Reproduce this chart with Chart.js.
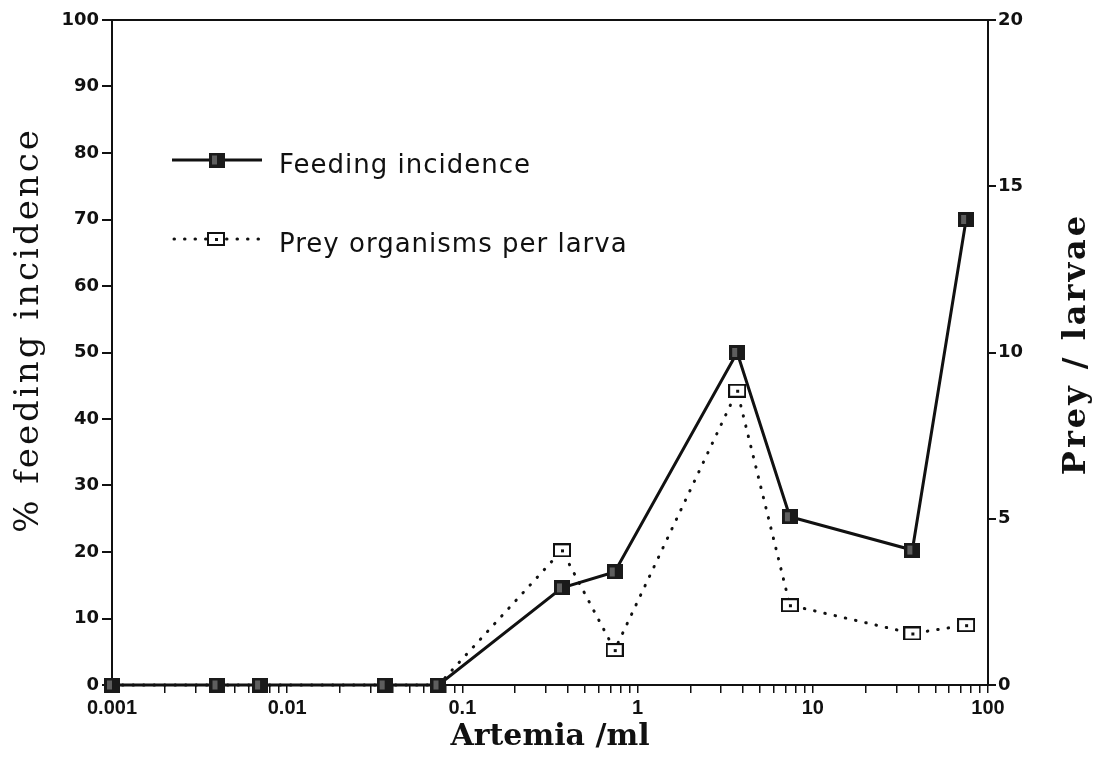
<!DOCTYPE html>
<html>
<head>
<meta charset="utf-8">
<script src="https://cdn.jsdelivr.net/npm/chart.js@4.4.1/dist/chart.umd.min.js"></script>
<style>
  html, body { margin: 0; padding: 0; background: #fff; }
  #wrap { width: 1104px; height: 773px; }
</style>
</head>
<body>
<div id="wrap"><canvas id="chart" width="1104" height="773"></canvas></div>
<script>
// data
const artemia  = [0.001, 0.004, 0.007, 0.036, 0.073, 0.37, 0.74, 3.7, 7.4, 37, 75];
const feeding  = [0, 0, 0, 0, 0, 14.6, 17, 50, 25.3, 20.3, 70];
const prey     = [0, 0, 0, 0, 0, 4.05, 1.05, 8.85, 2.4, 1.55, 1.8];
const leftTicks  = [0, 10, 20, 30, 40, 50, 60, 70, 80, 90, 100];
const rightTicks = [0, 5, 10, 15, 20];
const xTicks     = [0.001, 0.01, 0.1, 1, 10, 100];

const ink = '#111';

// marker images
function filledBox() {
  const c = document.createElement('canvas');
  c.width = 16; c.height = 15;
  const g = c.getContext('2d');
  g.fillStyle = '#1a1a1a';
  g.fillRect(0, 0, 16, 15);
  g.fillStyle = '#5e5e5e';
  g.fillRect(3, 3, 5, 9);
  return c;
}
function openBox() {
  const c = document.createElement('canvas');
  c.width = 18; c.height = 14;
  const g = c.getContext('2d');
  g.fillStyle = '#fff';
  g.fillRect(0, 0, 18, 14);
  g.strokeStyle = ink;
  g.lineWidth = 2;
  g.strokeRect(1, 1, 16, 12);
  g.fillStyle = ink;
  g.fillRect(8, 6, 3, 3);
  return c;
}
const fBox = filledBox();
const oBox = openBox();

const isMajor = v => xTicks.some(t => Math.abs(Math.log10(v) - Math.log10(t)) < 1e-6);

const decor = {
  id: 'decor',
  afterDraw(chart) {
    const { ctx, chartArea: a } = chart;
    ctx.save();
    ctx.strokeStyle = ink;
    ctx.lineWidth = 2;
    ctx.beginPath();
    ctx.moveTo(a.left, a.top);
    ctx.lineTo(a.right, a.top);
    ctx.stroke();

    ctx.fillStyle = ink;
    ctx.textAlign = 'center';
    ctx.textBaseline = 'alphabetic';
    ctx.font = 'bold 30px "DejaVu Serif"';
    ctx.fillText('Artemia /ml', 550, 745);

    ctx.save();
    ctx.translate(38, 330);
    ctx.rotate(-Math.PI / 2);
    ctx.font = '34px "DejaVu Serif"';
    ctx.letterSpacing = '3px';
    ctx.fillText('% feeding incidence', 0, 0);
    ctx.restore();

    ctx.save();
    ctx.translate(1085, 344);
    ctx.rotate(-Math.PI / 2);
    ctx.font = 'bold 32px "DejaVu Serif"';
    ctx.letterSpacing = '3px';
    ctx.fillText('Prey / larvae', 0, 0);
    ctx.restore();

    // legend
    ctx.lineWidth = 3;
    ctx.beginPath();
    ctx.moveTo(172, 160);
    ctx.lineTo(262, 160);
    ctx.stroke();
    ctx.drawImage(fBox, 217 - 8, 160 - 7.5);

    ctx.lineCap = 'round';
    ctx.setLineDash([0.5, 10]);
    ctx.beginPath();
    ctx.moveTo(174, 239);
    ctx.lineTo(262, 239);
    ctx.stroke();
    ctx.setLineDash([]);
    ctx.drawImage(oBox, 216 - 9, 239 - 7);

    ctx.textAlign = 'left';
    ctx.font = '26px "DejaVu Sans"';
    ctx.letterSpacing = '1px';
    ctx.fillText('Feeding incidence', 279, 173);
    ctx.fillText('Prey organisms per larva', 279, 252);
    ctx.restore();
  }
};

new Chart(document.getElementById('chart'), {
  type: 'line',
  data: {
    datasets: [
      {
        label: 'Feeding incidence',
        data: artemia.map((x, i) => ({ x, y: feeding[i] })),
        yAxisID: 'y',
        borderColor: ink,
        borderWidth: 3,
        pointStyle: fBox,
        pointRadius: 8,
        clip: false,
        order: 0
      },
      {
        label: 'Prey organisms per larva',
        data: artemia.map((x, i) => ({ x, y: prey[i] })),
        yAxisID: 'y2',
        borderColor: ink,
        borderWidth: 3,
        borderDash: [0.5, 10],
        borderCapStyle: 'round',
        pointStyle: artemia.map((x, i) => (prey[i] > 0 ? oBox : false)),
        pointRadius: 8,
        clip: false,
        order: 1
      }
    ]
  },
  options: {
    responsive: false,
    animation: false,
    devicePixelRatio: 1,
    layout: { padding: { top: 20, left: 0, right: 0, bottom: 0 } },
    plugins: { legend: { display: false }, tooltip: { enabled: false } },
    scales: {
      x: {
        type: 'logarithmic',
        position: 'bottom',
        min: 0.001,
        max: 100,
        afterBuildTicks: s => {
          const t = [];
          xTicks.forEach((d, i) => {
            if (i === xTicks.length - 1) { t.push({ value: d }); return; }
            for (let k = 1; k < 10; k++) t.push({ value: d * k });
          });
          s.ticks = t;
        },
        afterFit: s => { s.height = 88; },
        border: { display: true, color: ink, width: 2 },
        grid: { drawOnChartArea: false, drawTicks: true, tickLength: 8, color: ink, lineWidth: 1.5 },
        ticks: {
          autoSkip: false,
          maxRotation: 0,
          padding: 3,
          color: ink,
          font: { family: 'Liberation Sans', weight: 'bold', size: 20 },
          callback: v => (isMajor(v) ? String(+v.toPrecision(3)) : '')
        }
      },
      y: {
        position: 'left',
        min: 0,
        max: 100,
        afterBuildTicks: s => { s.ticks = leftTicks.map(v => ({ value: v })); },
        afterFit: s => { s.width = 112; },
        border: { display: true, color: ink, width: 2 },
        grid: { drawOnChartArea: false, drawTicks: true, tickLength: 10, color: ink, lineWidth: 2 },
        ticks: {
          padding: 3,
          color: ink,
          font: { family: 'DejaVu Sans', weight: 'bold', size: 18 }
        }
      },
      y2: {
        position: 'right',
        min: 0,
        max: 20,
        afterBuildTicks: s => { s.ticks = rightTicks.map(v => ({ value: v })); },
        afterFit: s => { s.width = 116; },
        border: { display: true, color: ink, width: 2 },
        grid: { drawOnChartArea: false, drawTicks: true, tickLength: 8, color: ink, lineWidth: 2 },
        ticks: {
          padding: 2,
          color: ink,
          font: { family: 'DejaVu Sans', weight: 'bold', size: 18 }
        }
      }
    }
  },
  plugins: [decor]
});
</script>
</body>
</html>
